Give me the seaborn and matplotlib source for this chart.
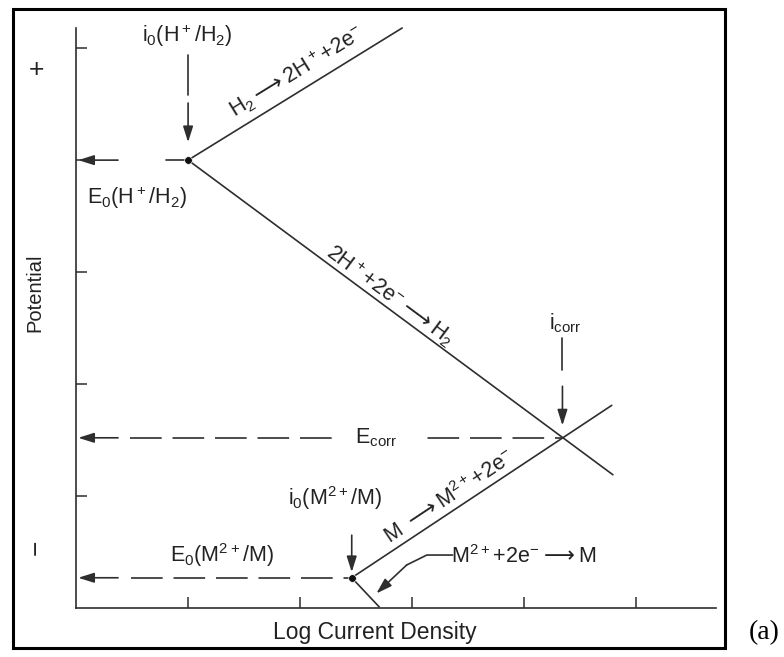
import numpy as np
import pandas as pd
import matplotlib
matplotlib.use('Agg')
import matplotlib.pyplot as plt
import seaborn as sns
from matplotlib.patches import Rectangle

# Evans diagram, both axes in "tick" units (one tick = one decade / one step)
i0_h, e0_h = 1.0, 4.0          # exchange point of H+/H2
h_ox_x, h_ox_y = [1.0, 2.91], [4.0, 5.18]     # H2 -> 2H+ + 2e-
h_red_x, h_red_y = [1.0, 4.79], [4.0, 1.19]   # 2H+ + 2e- -> H2
i0_m, e0_m = 2.46, 0.27        # exchange point of M2+/M
m_ox_x, m_ox_y = [2.46, 4.78], [0.27, 1.81]   # M -> M2+ + 2e-
m_red_x, m_red_y = [2.46, 2.705], [0.27, 0.01]  # M2+ + 2e- -> M
i_corr, e_corr = 4.34, 1.52
x_ticks = [1, 2, 3, 4, 5]
y_ticks = [1, 2, 3, 4, 5]

sns.set_style('white')
plt.rcParams['font.family'] = ['Liberation Sans', 'DejaVu Sans']
plt.rcParams['mathtext.default'] = 'regular'

ink = '#2e2e2e'
txt = '#222222'
dash = (0, (19, 6.5))
ARR = r'$\mathrm{\longrightarrow}$'

fig = plt.figure(figsize=(7.84, 6.57), dpi=100)
ax = fig.add_axes([76/784, 1-608/657, 640/784, 580/657])

# polarisation lines
for xs, ys in [(h_ox_x, h_ox_y), (h_red_x, h_red_y), (m_ox_x, m_ox_y), (m_red_x, m_red_y)]:
    sns.lineplot(x=xs, y=ys, ax=ax, color=ink, lw=1.2, estimator=None, sort=False, clip_on=False)
sns.scatterplot(x=[i0_h, i0_m], y=[e0_h, e0_m], ax=ax, color='#111111', s=30, zorder=5, clip_on=False)

# dashed guides to the potential axis
sns.lineplot(x=[0.48, i_corr], y=[e_corr, e_corr], ax=ax, color=ink, lw=1.2, linestyle=dash,
             estimator=None, sort=False)
sns.lineplot(x=[0.49, i0_m], y=[e0_m, e0_m], ax=ax, color=ink, lw=1.2, linestyle=dash,
             estimator=None, sort=False)
sns.lineplot(x=[i0_h - 0.2, i0_h], y=[e0_h, e0_h], ax=ax, color=ink, lw=1.2, estimator=None, sort=False)

arrow = dict(arrowstyle='-|>,head_length=0.95,head_width=0.3', color=ink, lw=1.2,
             shrinkA=0, shrinkB=0, mutation_scale=10)
for e in [e0_h, e_corr, e0_m]:
    ax.annotate('', xy=(0.02, e), xytext=(0.375, e), arrowprops=arrow, annotation_clip=False)

# vertical arrows marking the currents
sns.lineplot(x=[i0_h, i0_h], y=[4.94, 4.58], ax=ax, color=ink, lw=1.2, estimator=None, sort=False)
ax.annotate('', xy=(i0_h, e0_h + 0.16), xytext=(i0_h, e0_h + 0.51), arrowprops=arrow)
sns.lineplot(x=[i_corr, i_corr], y=[2.41, 2.125], ax=ax, color=ink, lw=1.2, estimator=None, sort=False)
ax.annotate('', xy=(i_corr, e_corr + 0.11), xytext=(i_corr, e_corr + 0.46), arrowprops=arrow)
ax.annotate('', xy=(i0_m, e0_m + 0.05), xytext=(i0_m, e0_m + 0.38), arrowprops=arrow)

# leader for the metal reduction branch
sns.lineplot(x=[3.36, 3.13, 2.95], y=[0.473, 0.473, 0.384], ax=ax, color=ink, lw=1.2,
             estimator=None, sort=False)
ax.annotate('', xy=(2.68, 0.13), xytext=(2.95, 0.384), arrowprops=arrow)

# labels
fs = 15.5
ax.text(0.99, 5.11, r'i$_0$(H$^+$/H$_2$)', fontsize=fs, color=txt, ha='center', va='center')
ax.text(0.545, 3.66, r'E$_0$(H$^+$/H$_2$)', fontsize=fs, color=txt, ha='center', va='center')
ax.text(4.37, 2.54, r'i$_{corr}$', fontsize=fs, color=txt, ha='center', va='center')
ax.text(2.68, 1.52, r'E$_{corr}$', fontsize=fs, color=txt, ha='center', va='center',
        bbox=dict(fc='white', ec='none', pad=14))
ax.text(2.31, 0.98, r'i$_0$(M$^{2+}$/M)', fontsize=fs, color=txt, ha='center', va='center')
ax.text(1.30, 0.47, r'E$_0$(M$^{2+}$/M)', fontsize=fs, color=txt, ha='center', va='center')
ax.text(3.99, 0.46, r'M$^{2+}$+2e$^{-}$' + ARR + 'M', fontsize=fs, color=txt, ha='center', va='center')


def slope_deg(xs, ys):
    return np.degrees(np.arctan2(ys[1] - ys[0], xs[1] - xs[0]))


ax.text(1.97, 4.79, r'H$_2$' + ARR + r'2H$^+$+2e$^{-}$', fontsize=fs, color=txt, ha='center',
        va='center', rotation=slope_deg(h_ox_x, h_ox_y), rotation_mode='anchor')
ax.text(2.80, 2.79, r'2H$^+$+2e$^{-}$' + ARR + r'H$_2$', fontsize=fs, color=txt, ha='center',
        va='center', rotation=slope_deg(h_red_x, h_red_y), rotation_mode='anchor')
ax.text(3.33, 0.99, 'M ' + ARR + r'M$^{2+}$+2e$^{-}$', fontsize=fs, color=txt, ha='center',
        va='center', rotation=slope_deg(m_ox_x, m_ox_y), rotation_mode='anchor')

# axes styling
ax.set_xlim(0, 5.71)
ax.set_ylim(0, 5.18)
ax.set_xticks(x_ticks)
ax.set_yticks(y_ticks)
ax.set_xticklabels([])
ax.set_yticklabels([])
ax.tick_params(direction='in', length=8, width=1.1, color=ink, bottom=True, left=True)
sns.despine(ax=ax)
for sp in ['left', 'bottom']:
    ax.spines[sp].set_color(ink)
    ax.spines[sp].set_linewidth(1.2)

fig.text(375/784, 1-632/657, 'Log Current Density', fontsize=16.5, color=txt, ha='center', va='center')
fig.text(35/784, 1-293/657, 'Potential', fontsize=14.5, color=txt, ha='center', va='center', rotation=90)
fig.text(36/784, 1-70/657, '+', fontsize=19, color=txt, ha='center', va='center')
fig.text(37/784, 1-547/657, '−', fontsize=19, color=txt, ha='center', va='center', rotation=90)
fig.text(764/784, 1-633/657, '(a)', fontsize=20, color='black', ha='center', va='center',
         family='Liberation Serif')

fig.add_artist(Rectangle((13/784, 1-648/657), 712/784, 639/657, transform=fig.transFigure,
                         fill=False, ec='black', lw=2.2))

fig.savefig('out.png', dpi=100)
